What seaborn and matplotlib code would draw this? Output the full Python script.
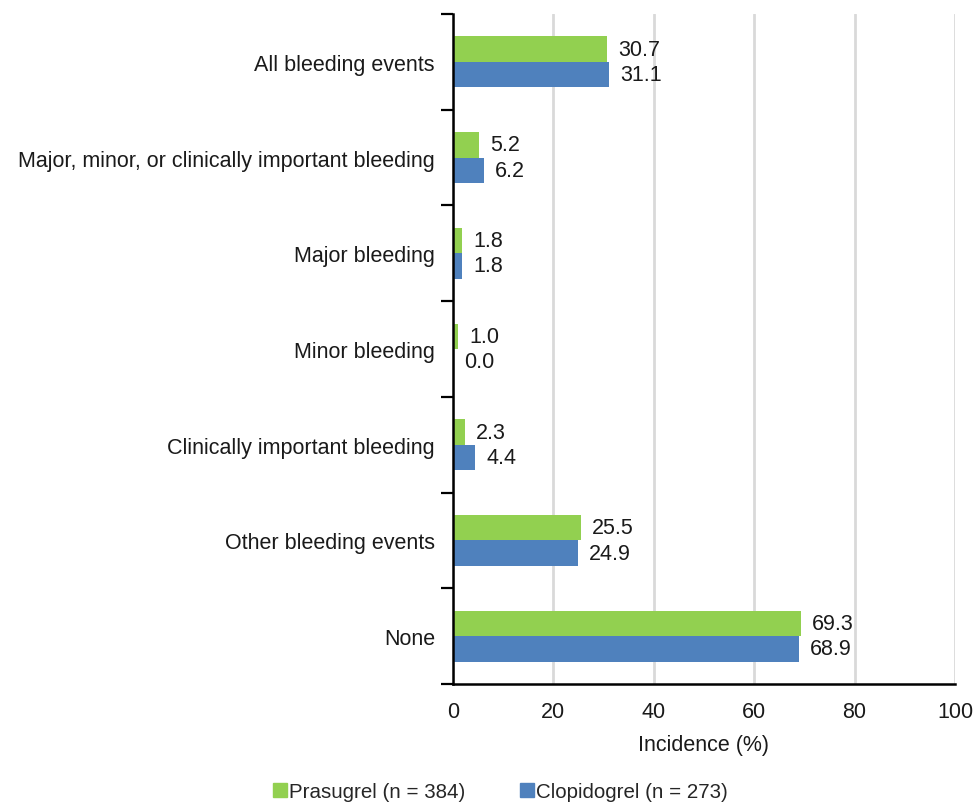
import matplotlib
matplotlib.use("Agg")
import matplotlib.pyplot as plt
from matplotlib.lines import Line2D
import numpy as np
import pandas as pd
import seaborn as sns

categories = [
    "All bleeding events",
    "Major, minor, or clinically important bleeding",
    "Major bleeding",
    "Minor bleeding",
    "Clinically important bleeding",
    "Other bleeding events",
    "None",
]
series_names = ["Prasugrel (n = 384)", "Clopidogrel (n = 273)"]
prasugrel = [30.7, 5.2, 1.8, 1.0, 2.3, 25.5, 69.3]
clopidogrel = [31.1, 6.2, 1.8, 0.0, 4.4, 24.9, 68.9]
x_ticks = [0, 20, 40, 60, 80, 100]

colors = ["#92D050", "#4F81BD"]
text_color = "#1a1a1a"
fs = 15.5

df = pd.DataFrame({
    "category": categories * 2,
    "group": [series_names[0]] * len(categories) + [series_names[1]] * len(categories),
    "value": prasugrel + clopidogrel,
})

sns.set_theme(style="white")
plt.rcParams["font.family"] = ["Liberation Sans", "DejaVu Sans"]

fig = plt.figure(figsize=(9.76, 8.03), dpi=100)
ax = fig.add_axes([453 / 976, 1 - 685 / 803, 502 / 976, 670 / 803])

sns.barplot(
    data=df, y="category", x="value", hue="group", order=categories,
    hue_order=series_names, palette=colors, orient="h", width=0.53,
    saturation=1, ax=ax, legend=False, edgecolor="none",
)

for cont in ax.containers:
    ax.bar_label(cont, fmt="%.1f", padding=8, fontsize=fs, color=text_color)

ax.set_xlim(0, 100)
ax.set_ylim(len(categories) - 0.5, -0.5)
ax.set_xticks(x_ticks)
ax.set_xticklabels([str(t) for t in x_ticks], fontsize=fs, color=text_color)
ax.tick_params(axis="x", length=0, pad=12)
ax.tick_params(axis="y", which="major", left=False, length=0, pad=13,
               labelsize=fs, labelcolor=text_color)
ax.set_yticks(np.arange(-0.5, len(categories) + 0.5, 1.0), minor=True)
ax.tick_params(axis="y", which="minor", left=True, length=9, width=1.6,
               color="black", direction="out")

ax.grid(axis="x", color="#d9d9d9", linewidth=2)
ax.set_axisbelow(True)
for side in ["top", "right"]:
    ax.spines[side].set_visible(False)
ax.spines["left"].set_color("black")
ax.spines["left"].set_linewidth(1.8)
ax.spines["bottom"].set_color("black")
ax.spines["bottom"].set_linewidth(1.8)

ax.set_ylabel("")
ax.set_xlabel("Incidence (%)", fontsize=fs, color=text_color, labelpad=9)

handles = [
    Line2D([], [], marker="s", linestyle="none", markersize=9.5,
           markerfacecolor=c, markeredgecolor=c, label=n)
    for c, n in zip(colors, series_names)
]
fig.legend(handles=handles, loc="lower center", bbox_to_anchor=(500 / 976, -0.022),
           ncol=2, frameon=False, fontsize=14.8, handletextpad=0.05,
           columnspacing=2.6, handlelength=0.8)

fig.savefig("out.png", dpi=100)
